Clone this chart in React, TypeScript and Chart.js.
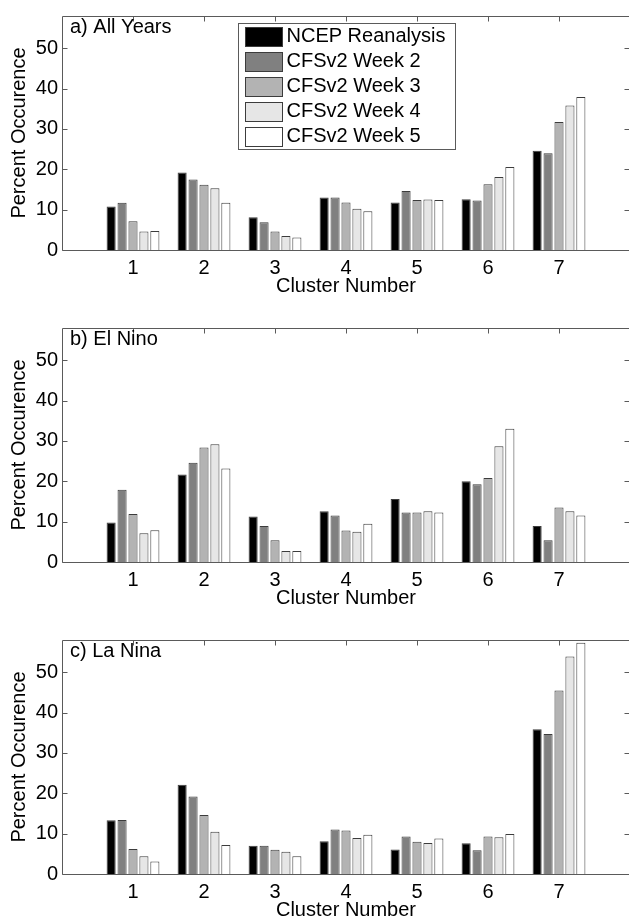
import React, { useEffect, useRef } from 'react';
import { Chart, registerables } from 'chart.js';

Chart.register(...registerables);

const FONT_FAMILY = '"Liberation Sans", Arial, Helvetica, sans-serif';
const FONT_SIZE = 20;
const AXIS_COLOR = '#5a5a5a';
const BAR_EDGE = '#3c3c3c';

// ---- data ----
const clusters = ['1', '2', '3', '4', '5', '6', '7'];
const seriesNames = ['NCEP Reanalysis', 'CFSv2 Week 2', 'CFSv2 Week 3', 'CFSv2 Week 4', 'CFSv2 Week 5'];
const seriesColors = ['#000000', '#808080', '#b3b3b3', '#e6e6e6', '#ffffff'];
const yTickValues = [0, 10, 20, 30, 40, 50];
const yAxisMax = 58;

// a) All Years
const allNcep = [10.8, 19.2, 8.1, 13.0, 11.8, 12.6, 24.6];
const allWeek2 = [11.7, 17.5, 6.9, 13.0, 14.6, 12.3, 24.0];
const allWeek3 = [7.1, 16.2, 4.6, 11.8, 12.4, 16.3, 31.7];
const allWeek4 = [4.6, 15.3, 3.5, 10.2, 12.5, 18.1, 35.8];
const allWeek5 = [4.7, 11.7, 3.1, 9.6, 12.4, 20.6, 37.9];

// b) El Nino
const ninoNcep = [9.8, 21.7, 11.3, 12.6, 15.6, 20.0, 8.9];
const ninoWeek2 = [17.9, 24.6, 8.9, 11.5, 12.3, 19.3, 5.4];
const ninoWeek3 = [11.9, 28.4, 5.4, 7.8, 12.3, 20.8, 13.5];
const ninoWeek4 = [7.1, 29.2, 2.7, 7.5, 12.6, 28.7, 12.6];
const ninoWeek5 = [7.9, 23.2, 2.7, 9.5, 12.3, 33.0, 11.5];

// c) La Nina
const ninaNcep = [13.3, 22.1, 7.0, 8.1, 6.1, 7.6, 35.9];
const ninaWeek2 = [13.4, 19.2, 7.0, 11.0, 9.3, 5.9, 34.7];
const ninaWeek3 = [6.2, 14.6, 6.0, 10.8, 8.0, 9.3, 45.5];
const ninaWeek4 = [4.4, 10.5, 5.5, 8.9, 7.7, 9.1, 53.9];
const ninaWeek5 = [3.1, 7.2, 4.4, 9.7, 8.8, 9.9, 57.3];

const panels = [
  { title: 'a) All Years', series: [allNcep, allWeek2, allWeek3, allWeek4, allWeek5], legend: true },
  { title: 'b) El Nino', series: [ninoNcep, ninoWeek2, ninoWeek3, ninoWeek4, ninoWeek5], legend: false },
  { title: 'c) La Nina', series: [ninaNcep, ninaWeek2, ninaWeek3, ninaWeek4, ninaWeek5], legend: false },
];

// ---- layout ----
const CANVAS_W = 640;
const CANVAS_H = 310;
const PAD_TOP = 8;
const PLOT_H = 242;
const Y_AXIS_W = 62;
const PAD_RIGHT = 10;
const TICK_LEN = 5;

const matlabPlugin = {
  id: 'matlabFrame',
  beforeDatasetsDraw(chart: any) {
    const { ctx, chartArea, scales } = chart;
    const { left, right, top, bottom } = chartArea;
    const x = scales.x;
    const y = scales.y;
    ctx.save();
    ctx.strokeStyle = AXIS_COLOR;
    ctx.lineWidth = 1;
    ctx.beginPath();
    const L = Math.round(left) + 0.5;
    const R = Math.round(right) - 0.5;
    const T = Math.round(top) + 0.5;
    const B = Math.round(bottom) + 0.5;
    ctx.moveTo(L, B);
    ctx.lineTo(L, T);
    ctx.lineTo(R, T);
    ctx.lineTo(R, B);
    ctx.lineTo(L, B);
    yTickValues.forEach((v) => {
      const py = Math.round(y.getPixelForValue(v)) + 0.5;
      ctx.moveTo(L, py);
      ctx.lineTo(L + TICK_LEN, py);
      ctx.moveTo(R, py);
      ctx.lineTo(R - TICK_LEN, py);
    });
    clusters.forEach((_, i) => {
      const px = Math.round(x.getPixelForValue(i + 1)) + 0.5;
      ctx.moveTo(px, T);
      ctx.lineTo(px, T + TICK_LEN);
      ctx.moveTo(px, B);
      ctx.lineTo(px, B - TICK_LEN);
    });
    ctx.stroke();
    ctx.restore();
  },
  afterDraw(chart: any, _args: any, opts: any) {
    const { ctx, chartArea } = chart;
    const { left, top } = chartArea;
    ctx.save();
    ctx.font = `${FONT_SIZE}px ${FONT_FAMILY}`;
    ctx.fillStyle = '#000';
    ctx.textBaseline = 'alphabetic';
    ctx.textAlign = 'left';
    ctx.fillText(opts.title, left + 8, top + 16.5);

    if (opts.legend) {
      const bx = Math.round(left) + 176 + 0.5;
      const by = Math.round(top) + 7 + 0.5;
      const bw = 217;
      const bh = 126;
      ctx.fillStyle = '#fff';
      ctx.fillRect(bx, by, bw, bh);
      ctx.strokeStyle = AXIS_COLOR;
      ctx.lineWidth = 1;
      ctx.strokeRect(bx, by, bw, bh);
      chart.data.datasets.forEach((ds: any, i: number) => {
        const cy = by + 13 + i * 25;
        ctx.fillStyle = ds.backgroundColor;
        ctx.fillRect(bx + 7, Math.round(cy - 10) + 0.5, 37, 19);
        ctx.strokeStyle = BAR_EDGE;
        ctx.strokeRect(bx + 7, Math.round(cy - 10) + 0.5, 37, 19);
        ctx.fillStyle = '#000';
        ctx.textBaseline = 'middle';
        ctx.fillText(ds.label, bx + 48, cy);
      });
    }
    ctx.restore();
  },
};

function Panel({ panel, top }: { panel: any; top: number }) {
  const ref = useRef<HTMLCanvasElement | null>(null);
  useEffect(() => {
    if (!ref.current) return;
    const font = { family: FONT_FAMILY, size: FONT_SIZE };
    const chart = new Chart(ref.current, {
      type: 'bar',
      data: {
        labels: ['', ...clusters, ''],
        datasets: seriesNames.map((name, i) => ({
          label: name,
          data: [null, ...panel.series[i], null],
          backgroundColor: seriesColors[i],
          borderColor: BAR_EDGE,
          borderWidth: 1,
          categoryPercentage: 0.77,
          barPercentage: 0.83,
        })),
      },
      options: {
        animation: false,
        responsive: false,
        devicePixelRatio: 1,
        events: [],
        layout: { padding: { top: PAD_TOP, right: PAD_RIGHT, left: 0, bottom: 0 } },
        plugins: {
          legend: { display: false },
          tooltip: { enabled: false },
          matlabFrame: { title: panel.title, legend: panel.legend },
        } as any,
        scales: {
          x: {
            type: 'category',
            offset: false,
            grid: { display: false, drawTicks: false },
            border: { display: false },
            ticks: { autoSkip: false, maxRotation: 0, minRotation: 0, color: '#000', font, padding: 6 },
            title: { display: true, text: 'Cluster Number', color: '#000', font, padding: { top: 0, bottom: 12 } },
            afterFit: (s: any) => {
              s.height = CANVAS_H - PAD_TOP - PLOT_H;
            },
          },
          y: {
            min: 0,
            max: yAxisMax,
            grid: { display: false, drawTicks: false },
            border: { display: false },
            ticks: { stepSize: 10, includeBounds: false, color: '#000', font, padding: 4 },
            title: { display: true, text: 'Percent Occurence', color: '#000', font, padding: { top: 7, bottom: 0 } },
            afterFit: (s: any) => {
              s.width = Y_AXIS_W;
            },
          },
        },
      } as any,
      plugins: [matlabPlugin],
    });
    return () => chart.destroy();
  }, [panel]);
  return (
    <canvas
      ref={ref}
      width={CANVAS_W}
      height={CANVAS_H}
      style={{ position: 'absolute', left: 0, top, width: CANVAS_W, height: CANVAS_H, display: 'block' }}
    />
  );
}

export default function App() {
  return (
    <div
      style={{
        position: 'absolute',
        left: 0,
        top: 0,
        width: 629,
        height: 923,
        overflow: 'hidden',
        background: '#fff',
      }}
    >
      {panels.map((p, i) => (
        <Panel key={i} panel={p} top={i * 312} />
      ))}
    </div>
  );
}
